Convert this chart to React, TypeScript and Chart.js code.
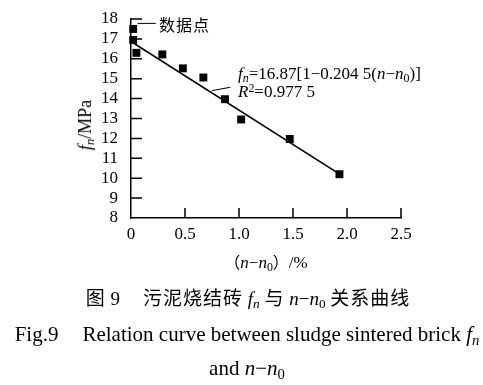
import React, { useEffect, useRef } from "react";
import { Chart, registerables } from "chart.js";

Chart.register(...registerables);

// measured data points: (n - n0) in %, f_n in MPa
const DELTA_N = [0.02, 0.02, 0.05, 0.29, 0.48, 0.67, 0.87, 1.02, 1.47, 1.93];
const FN = [17.5, 16.95, 16.3, 16.22, 15.52, 15.06, 13.97, 12.95, 11.97, 10.2];
// fitted line end points
const FIT_X = [0, 1.95];
const FIT_Y = [16.87, 10.14];
// axis ticks
const X_TICKS = [0, 0.5, 1.0, 1.5, 2.0, 2.5];
const Y_TICKS = [8, 9, 10, 11, 12, 13, 14, 15, 16, 17, 18];
// annotation leader lines (data coordinates)
const LEGEND_LEADER_X = [0.06, 0.23];
const LEGEND_LEADER_Y = [17.78, 17.78];
const EQ_LEADER_X = [0.75, 0.92];
const EQ_LEADER_Y = [14.4, 14.57];

const SERIF = "'Liberation Serif', 'Times New Roman', 'Noto Sans CJK SC', serif";
const CJK = "'Noto Sans CJK SC', 'Liberation Serif', sans-serif";

const W = 483;
const H = 385;

const inwardTicks = {
  id: "inwardTicks",
  afterDatasetsDraw(chart: any) {
    const { ctx, scales } = chart;
    const xs = scales.x;
    const ys = scales.y;
    ctx.save();
    ctx.strokeStyle = "#000";
    ctx.lineWidth = 1.5;
    ctx.beginPath();
    xs.ticks.forEach((t: any) => {
      if (t.value === xs.min) return;
      const px = xs.getPixelForValue(t.value);
      ctx.moveTo(px, ys.bottom);
      ctx.lineTo(px, ys.bottom - 10);
    });
    ys.ticks.forEach((t: any) => {
      if (t.value === ys.min) return;
      const py = ys.getPixelForValue(t.value);
      ctx.moveTo(xs.left, py);
      ctx.lineTo(xs.left + 11, py);
    });
    ctx.stroke();
    ctx.restore();
  },
};

const sub: React.CSSProperties = { fontSize: "0.7em", verticalAlign: "-0.25em", lineHeight: 0 };
const sup: React.CSSProperties = { fontSize: "0.7em", verticalAlign: "0.45em", lineHeight: 0 };
const cjk: React.CSSProperties = { fontFamily: CJK, letterSpacing: "1px" };

export default function App() {
  const ref = useRef<HTMLCanvasElement>(null);

  useEffect(() => {
    if (!ref.current) return;
    Chart.defaults.color = "#000";
    const chart = new Chart(ref.current, {
      type: "scatter",
      data: {
        datasets: [
          {
            label: "数据点",
            data: DELTA_N.map((x, i) => ({ x, y: FN[i] })),
            pointStyle: "rect",
            pointRadius: 5.6,
            pointBackgroundColor: "#000",
            pointBorderWidth: 0,
            showLine: false,
            clip: false,
            order: 0,
          } as any,
          {
            label: "fit",
            data: FIT_X.map((x, i) => ({ x, y: FIT_Y[i] })),
            showLine: true,
            borderColor: "#000",
            borderWidth: 1.6,
            pointRadius: 0,
            order: 1,
          } as any,
          {
            label: "leader1",
            data: LEGEND_LEADER_X.map((x, i) => ({ x, y: LEGEND_LEADER_Y[i] })),
            showLine: true,
            borderColor: "#000",
            borderWidth: 1,
            pointRadius: 0,
            clip: false,
            order: 2,
          } as any,
          {
            label: "leader2",
            data: EQ_LEADER_X.map((x, i) => ({ x, y: EQ_LEADER_Y[i] })),
            showLine: true,
            borderColor: "#000",
            borderWidth: 1,
            pointRadius: 0,
            order: 2,
          } as any,
        ],
      },
      options: {
        responsive: false,
        animation: false,
        devicePixelRatio: 1,
        layout: { padding: { left: 0, right: 82, top: 19, bottom: 0 } },
        plugins: { legend: { display: false }, tooltip: { enabled: false } },
        scales: {
          x: {
            type: "linear",
            min: 0,
            max: 2.5,
            afterBuildTicks: (s: any) => {
              s.ticks = X_TICKS.map((v) => ({ value: v }));
            },
            afterFit: (s: any) => {
              s.height = 167;
              s.paddingLeft = 0;
              s.paddingRight = 0;
            },
            ticks: {
              padding: 6,
              autoSkip: false,
              maxRotation: 0,
              font: { family: SERIF, size: 17 },
              color: "#000",
              callback: (v: any) => (v === 0 ? "0" : Number(v).toFixed(1)),
            },
            grid: { drawOnChartArea: false, drawTicks: false },
            border: { color: "#000", width: 1.5 },
          },
          y: {
            type: "linear",
            min: 8,
            max: 18,
            afterBuildTicks: (s: any) => {
              s.ticks = Y_TICKS.map((v) => ({ value: v }));
            },
            afterFit: (s: any) => {
              s.width = 131;
              s.paddingTop = 0;
              s.paddingBottom = 0;
            },
            ticks: {
              padding: 13,
              autoSkip: false,
              font: { family: SERIF, size: 17 },
              color: "#000",
              callback: (v: any) => String(v),
            },
            grid: { drawOnChartArea: false, drawTicks: false },
            border: { color: "#000", width: 1.5 },
          },
        },
      },
      plugins: [inwardTicks],
    });
    return () => chart.destroy();
  }, []);

  const abs = (left: number, top: number, extra: React.CSSProperties = {}): React.CSSProperties => ({
    position: "absolute",
    left,
    top,
    whiteSpace: "nowrap",
    color: "#000",
    ...extra,
  });

  return (
    <div style={{ position: "absolute", left: 0, top: 0, width: W, height: H, background: "#fff", overflow: "hidden" }}>
      <canvas ref={ref} width={W} height={H} style={{ position: "absolute", left: 0, top: 0, width: W, height: H }} />
      {/* legend label */}
      <div style={abs(159, 15, { fontFamily: CJK, fontSize: 16, lineHeight: "18px", letterSpacing: "1px" })}>数据点</div>
      {/* equation */}
      <div style={abs(238, 65, { fontFamily: SERIF, fontSize: 17, lineHeight: "18px" })}>
        <i>f</i>
        <i style={sub}>n</i>=16.87[1−0.204 5(<i>n</i>−<i>n</i>
        <span style={sub}>0</span>)]
      </div>
      <div style={abs(238, 83, { fontFamily: SERIF, fontSize: 17, lineHeight: "18px" })}>
        <i>R</i>
        <span style={sup}>2</span>=0.977 5
      </div>
      {/* y axis title */}
      <div
        style={abs(85, 125, {
          fontFamily: SERIF,
          fontSize: 18,
          lineHeight: "20px",
          transform: "translate(-50%, -50%) rotate(-90deg)",
        })}
      >
        <i>f</i>
        <i style={sub}>n</i>/MPa
      </div>
      {/* x axis title */}
      <div
        style={abs(266, 262, {
          fontFamily: SERIF,
          fontSize: 17,
          lineHeight: "18px",
          transform: "translate(-50%, -50%)",
        })}
      >
        <span style={{ fontFamily: CJK, fontSize: 16 }}>（</span>
        <i>n</i>−<i>n</i>
        <span style={sub}>0</span>
        <span style={{ fontFamily: CJK, fontSize: 16 }}>）</span>/%
      </div>
      {/* captions */}
      <div
        style={abs(248, 298, {
          fontFamily: SERIF,
          fontSize: 19,
          lineHeight: "20px",
          transform: "translate(-50%, -50%)",
        })}
      >
        <span style={cjk}>图</span> 9<span style={{ display: "inline-block", width: 23 }} />
        <span style={cjk}>污泥烧结砖</span> <i>f</i>
        <i style={sub}>n</i> <span style={cjk}>与</span> <i>n</i>−<i>n</i>
        <span style={sub}>0</span> <span style={cjk}>关系曲线</span>
      </div>
      <div
        style={abs(247, 334, {
          fontFamily: SERIF,
          fontSize: 21,
          lineHeight: "22px",
          transform: "translate(-50%, -50%)",
        })}
      >
        Fig.9<span style={{ display: "inline-block", width: 24 }} />Relation curve between sludge sintered brick <i>f</i>
        <i style={sub}>n</i>
      </div>
      <div
        style={abs(247, 368, {
          fontFamily: SERIF,
          fontSize: 21,
          lineHeight: "22px",
          transform: "translate(-50%, -50%)",
        })}
      >
        and <i>n</i>−<i>n</i>
        <span style={sub}>0</span>
      </div>
    </div>
  );
}
